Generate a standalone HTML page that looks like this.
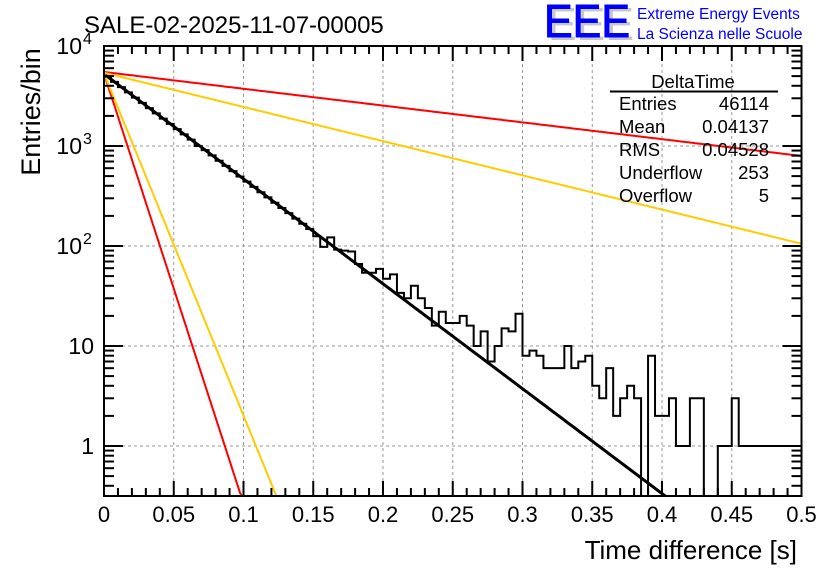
<!DOCTYPE html>
<html><head><meta charset="utf-8">
<style>
html,body{margin:0;padding:0;background:#fff;}
svg{display:block;font-family:"Liberation Sans",sans-serif;}
</style></head>
<body>
<svg id="chart" width="836" height="572" viewBox="0 0 836 572">
  <rect x="0" y="0" width="836" height="572" fill="#fff"/>
  <g id="grid"></g>
  <g id="fits"></g>
  <g id="hist"></g>
  <g id="axes"></g>
  <text x="84" y="33" font-size="24" fill="#000">SALE-02-2025-11-07-00005</text>
  <text transform="translate(40,112) rotate(-90)" text-anchor="middle" font-size="27">Entries/bin</text>
  <text x="797" y="559" text-anchor="end" font-size="26">Time difference [s]</text>
  <g>
    <text x="548" y="40" font-size="46" fill="#c8c8c8" textLength="86" lengthAdjust="spacingAndGlyphs">EEE</text>
    <text x="544" y="37" font-size="46" fill="#0000ff" textLength="86" lengthAdjust="spacingAndGlyphs" stroke="#0000ff" stroke-width="1">EEE</text>
    <text x="637" y="19" font-size="15.5" fill="#0000ff">Extreme Energy Events</text>
    <text x="637" y="39" font-size="15.5" fill="#0000ff">La Scienza nelle Scuole</text>
  </g>
  <g font-size="18.5">
    <text x="693" y="88" text-anchor="middle">DeltaTime</text>
    <line x1="610" y1="91.5" x2="778" y2="91.5" stroke="#000" stroke-width="2"/>
    <text x="619" y="110">Entries</text><text x="769" y="110" text-anchor="end">46114</text>
    <text x="619" y="133">Mean</text><text x="769" y="133" text-anchor="end">0.04137</text>
    <text x="619" y="156">RMS</text><text x="769" y="156" text-anchor="end">0.04528</text>
    <text x="619" y="179">Underflow</text><text x="769" y="179" text-anchor="end">253</text>
    <text x="619" y="202">Overflow</text><text x="769" y="202" text-anchor="end">5</text>
  </g>
</svg>
<script>
// ---- data ----
const binWidth = 0.005;
const counts = [4940,4380,3880,3440,3050,2700,2390,2120,1880,1665,
  1475,1307,1158,1000,909,805,713,632,560,496,
  440,390,345,306,271,240,213,188,167,148,
  125,98,122,92,90,88,66,54,54,59,
  47,52,34,30,40,30,24,16,22,17,
  17,20,16,10,14,7,10,15,14,21,
  8,9,8,6,6,6,10,6,7,8,
  4,3,6,2,3,4,3,0,8,2,
  2,3,1,1,3,3,0,0,1,1,
  3,1,1,1,1,1,1,1,1,1];
const fitNames = ['fit-main','fit-red-slow','fit-yellow-slow','fit-red-fast','fit-yellow-fast'];
const fitAmp = [5250,5500,5400,5300,5300];
const fitTau = [0.0414,0.2585,0.127,0.0101,0.0127];
const fitColor = ['#000','#ff0000','#ffcc00','#ff0000','#ffcc00'];
const xTicks = [0,0.05,0.1,0.15,0.2,0.25,0.3,0.35,0.4,0.45,0.5];
const xTickLabels = ['0','0.05','0.1','0.15','0.2','0.25','0.3','0.35','0.4','0.45','0.5'];
const yDecades = [0,1,2,3,4];
const yTickBase = ['1','10','10','10','10'];
const yTickExp = ['','','2','3','4'];

// ---- scales ----
const X0=104, X1=801.5, Y0=496, YTOP=46;
const xMin=0, xMax=0.5, logMin=-0.5, logMax=4;
const sx = v => X0 + (v-xMin)/(xMax-xMin)*(X1-X0);
const sy = v => { const l = Math.log10(Math.max(v,1e-9)); return Y0 - (l-logMin)/(logMax-logMin)*(Y0-YTOP); };
const clampY = y => Math.min(Math.max(y,YTOP),Y0);
const NS='http://www.w3.org/2000/svg';
function mk(tag, attrs, parent){ const e=document.createElementNS(NS,tag); for(const k in attrs) e.setAttribute(k,attrs[k]); parent.appendChild(e); return e; }

// grid
const grid=document.getElementById('grid');
xTicks.forEach(t=>{ if(t>0&&t<0.5){ const l=mk('line',{x1:sx(t),x2:sx(t),y1:YTOP,y2:Y0,stroke:'#999','stroke-width':1,'stroke-dasharray':'3,3'},grid);
  
   }});
yDecades.forEach(d=>{ if(d<4){ const y=sy(Math.pow(10,d)); const l=mk('line',{x1:X0,x2:X1,y1:y,y2:y,stroke:'#999','stroke-width':1,'stroke-dasharray':'3,3'},grid);
  
   }});

// fits
const fits=document.getElementById('fits');
fitTau.forEach((tau,i)=>{
  let pts=[];
  for(let k=0;k<=400;k++){ const t=xMax*k/400; const v=fitAmp[i]*Math.exp(-t/tau); const y=sy(v);
    pts.push(sx(t).toFixed(1)+','+clampY(y).toFixed(1)); if(y>Y0) break; }
  const p=mk('polyline',{points:pts.join(' '),fill:'none',stroke:fitColor[i],'stroke-width':i===0?3:2},fits);
  
  
});

// histogram
const hist=document.getElementById('hist');
let d='';
counts.forEach((c,i)=>{
  const xa=sx(i*binWidth), xb=sx((i+1)*binWidth);
  const y=c>0?clampY(sy(c)):Y0;
  d+=(i===0?'M'+xa+','+y:'L'+xa+','+y)+' L'+xb+','+y+' ';
});
const hp=mk('path',{d:d,fill:'none',stroke:'#000','stroke-width':2},hist);



// axes
const ax=document.getElementById('axes');
const fr=mk('rect',{x:X0,y:YTOP,width:X1-X0,height:Y0-YTOP,fill:'none',stroke:'#000','stroke-width':2},ax);


for(let k=0;k<=50;k++){ const t=k*0.01; const x=sx(t); const L=(k%5===0)?15:8;
  mk('line',{x1:x,x2:x,y1:Y0,y2:Y0-L,stroke:'#000','stroke-width':2},ax);
  mk('line',{x1:x,x2:x,y1:YTOP,y2:YTOP+L,stroke:'#000','stroke-width':2},ax); }
for(let d2=-1; d2<4; d2++){ for(let m=1;m<10;m++){ const v=m*Math.pow(10,d2); const y=sy(v); if(y>Y0||y<YTOP) continue;
  const L=m===1?19:10;
  mk('line',{x1:X0,x2:X0+L,y1:y,y2:y,stroke:'#000','stroke-width':2},ax);
  mk('line',{x1:X1,x2:X1-L,y1:y,y2:y,stroke:'#000','stroke-width':2},ax); }}
xTicks.forEach((t,i)=>{ const tx=mk('text',{x:sx(t),y:522,'text-anchor':'middle','font-size':22},ax); tx.textContent=xTickLabels[i];
  
   });
yDecades.forEach((dd,i)=>{ const y=sy(Math.pow(10,dd)); const hasExp=yTickExp[i]!=='';
  const tx=mk('text',{x:hasExp?82:94,y:y+8,'text-anchor':'end','font-size':23},ax); tx.textContent=yTickBase[i];
  
  
  if(hasExp){ const ex=mk('text',{x:83,y:y-2,'font-size':16},ax); ex.textContent=yTickExp[i];
    
     }
});
</script>
</body></html>
